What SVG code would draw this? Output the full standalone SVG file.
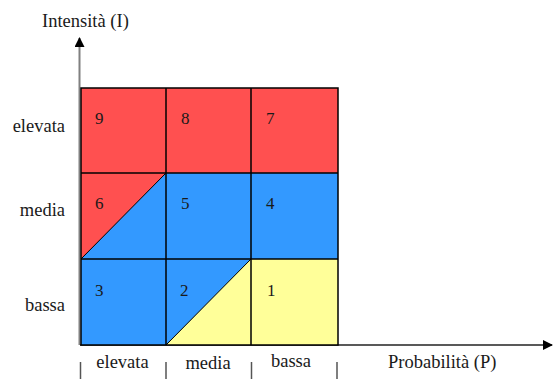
<svg xmlns="http://www.w3.org/2000/svg" width="553" height="379" viewBox="0 0 553 379" font-family="'Liberation Serif', 'DejaVu Serif', serif">
<style>
text{font-family:'Liberation Serif','DejaVu Serif',serif;font-size:18.5px;fill:#1a1a1a}
.num{font-size:17px}
.red{fill:#FF5050}
.blue{fill:#3399FF}
.yel{fill:#FFFF99}
.grid{fill:none;stroke:#000;stroke-width:1.5}
.tick{stroke:#555;stroke-width:1.5}
</style>
<defs>
<marker id="ah" markerWidth="10" markerHeight="10" refX="9" refY="5" orient="auto" markerUnits="userSpaceOnUse">
<path d="M0,0 L10,5 L0,10 Z" fill="#000"/>
</marker>
</defs>
<rect width="553" height="379" fill="#fff"/>
<g id="axes">
<line x1="79.5" y1="345" x2="79.5" y2="38" stroke="#808080" stroke-width="2" marker-end="url(#ah)"/>
<line x1="80" y1="345" x2="552" y2="345" stroke="#222" stroke-width="1.5" marker-end="url(#ah)"/>
<text x="42" y="27">Intensità (I)</text>
<text x="388" y="368">Probabilità (P)</text>
</g>
<g id="cell9"><rect class="red" x="81" y="88" width="85" height="85"/><text class="num" x="95" y="124">9</text></g>
<g id="cell8"><rect class="red" x="166" y="88" width="85" height="85"/><text class="num" x="181" y="124">8</text></g>
<g id="cell7"><rect class="red" x="251" y="88" width="87" height="85"/><text class="num" x="266" y="124">7</text></g>
<g id="cell6"><rect class="blue" x="81" y="173" width="85" height="86"/><polygon class="red" points="81,173 166,173 81,259"/><line x1="166" y1="173" x2="81" y2="259" stroke="#000" stroke-width="1"/><text class="num" x="95" y="209">6</text></g>
<g id="cell5"><rect class="blue" x="166" y="173" width="85" height="86"/><text class="num" x="181" y="209">5</text></g>
<g id="cell4"><rect class="blue" x="251" y="173" width="87" height="86"/><text class="num" x="266" y="209">4</text></g>
<g id="cell3"><rect class="blue" x="81" y="259" width="85" height="86"/><text class="num" x="95" y="296">3</text></g>
<g id="cell2"><rect class="blue" x="166" y="259" width="85" height="86"/><polygon class="yel" points="251,259 251,345 166,345"/><line x1="251" y1="259" x2="166" y2="345" stroke="#000" stroke-width="1"/><text class="num" x="180" y="296">2</text></g>
<g id="cell1"><rect class="yel" x="251" y="259" width="87" height="86"/><text class="num" x="267" y="296">1</text></g>
<g id="gridlines">
<rect class="grid" x="81" y="88" width="257" height="257"/>
<line class="grid" x1="166" y1="88" x2="166" y2="345"/>
<line class="grid" x1="251" y1="88" x2="251" y2="345" stroke-width="2"/>
<line class="grid" x1="81" y1="173" x2="338" y2="173"/>
<line class="grid" x1="81" y1="259" x2="338" y2="259"/>
</g>
<g id="labels">
<text x="65" y="132" text-anchor="end">elevata</text>
<text x="65" y="216" text-anchor="end">media</text>
<text x="65" y="311" text-anchor="end">bassa</text>
<text x="122.5" y="368" text-anchor="middle">elevata</text>
<text x="208" y="369" text-anchor="middle">media</text>
<text x="291" y="367" text-anchor="middle">bassa</text>
</g>
<g id="ticks">
<line class="tick" x1="80.5" y1="362" x2="80.5" y2="379"/>
<line class="tick" x1="166" y1="362" x2="166" y2="379"/>
<line class="tick" x1="251.5" y1="362" x2="251.5" y2="379"/>
<line class="tick" x1="337" y1="362" x2="337" y2="379"/>
</g>
</svg>
